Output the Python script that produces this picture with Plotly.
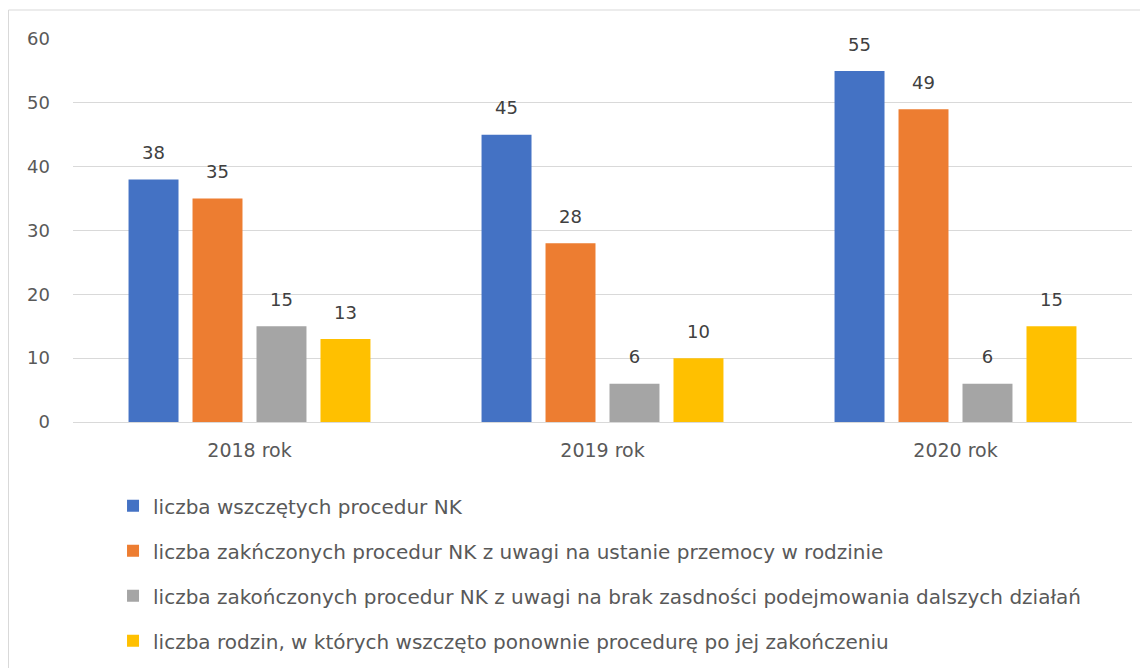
import plotly.graph_objects as go

categories = ["2018 rok", "2019 rok", "2020 rok"]
series_names = [
    "liczba wszczętych procedur NK",
    "liczba zakńczonych procedur NK z uwagi na ustanie przemocy w rodzinie",
    "liczba zakończonych procedur NK z uwagi na brak zasdności podejmowania dalszych działań",
    "liczba rodzin, w których wszczęto ponownie procedurę po jej zakończeniu",
]
wszczete = [38, 45, 55]
ustanie = [35, 28, 49]
brak_zasadnosci = [15, 6, 6]
ponownie = [13, 10, 15]
series_values = [wszczete, ustanie, brak_zasadnosci, ponownie]
colors = ["#4472C4", "#ED7D31", "#A5A5A5", "#FFC000"]
y_ticks = [0, 10, 20, 30, 40, 50, 60]

FONT = "DejaVu Sans"
fig = go.Figure()
for i, (name, vals, col) in enumerate(zip(series_names, series_values, colors)):
    fig.add_trace(go.Bar(
        x=categories, y=vals, name=name, marker_color=col, marker_line_width=0,
        text=vals, textposition="outside", cliponaxis=False,
        texttemplate="<span style='font-size:18px'>%{y}</span><br> ",
        textfont=dict(family=FONT, size=11, color="#404040"),
        legendgroup=f"g{i}",
    ))

fig.update_layout(
    width=1148, height=668,
    margin=dict(l=65, r=24, t=31, b=254),
    paper_bgcolor="white", plot_bgcolor="white",
    barmode="group", bargap=0.275, bargroupgap=0.219,
    font=dict(family=FONT, color="#595959"),
    uniformtext=dict(mode=False),
    showlegend=True,
    legend=dict(
        orientation="v", x=0.0378, xanchor="left", y=-0.168, yanchor="top",
        font=dict(family=FONT, size=20, color="#595959"),
        tracegroupgap=16, traceorder="grouped",
        bgcolor="rgba(0,0,0,0)",
    ),
    xaxis=dict(
        showgrid=False, showline=True, linecolor="#D9D9D9", linewidth=1,
        ticks="", tickfont=dict(family=FONT, size=19, color="#595959"),
        ticklabelstandoff=11,
    ),
    yaxis=dict(
        range=[0, 60], tickvals=y_ticks, showgrid=True, gridcolor="#D9D9D9",
        gridwidth=1, zeroline=False, showline=False, ticks="",
        tickfont=dict(family=FONT, size=18, color="#595959"),
        ticklabelstandoff=22,
    ),
    shapes=[dict(
        type="rect", xref="paper", yref="paper",
        x0=-64.5 / 1059, x1=1.2, y0=-1.0, y1=1 + 29 / 383,
        line=dict(color="#D9D9D9", width=1), fillcolor="rgba(0,0,0,0)",
        layer="below",
    )],
)

fig.write_html("out.html")
